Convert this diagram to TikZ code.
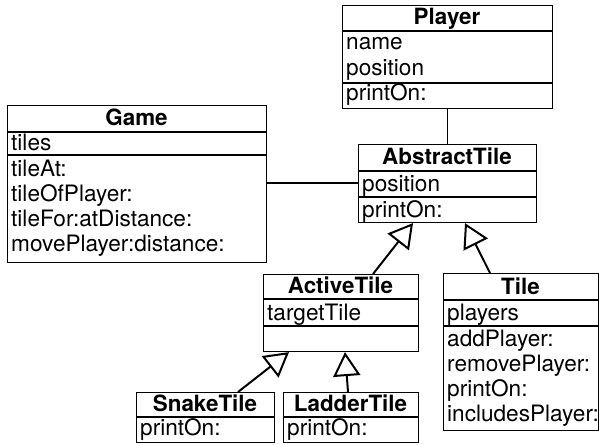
\documentclass[tikz,border=0pt]{standalone}
\usepackage{fontspec}
\setmainfont{TeX Gyre Heros}
\usetikzlibrary{arrows.meta}
\tikzset{
  cls/.style={draw, line width=1.1pt, inner sep=0pt, anchor=north west},
  sep/.style={line width=1.1pt},
  ttl/.style={inner sep=0pt, anchor=base, font=\fontsize{22.4}{25}\selectfont\bfseries},
  txt/.style={inner sep=0pt, anchor=base west, font=\fontsize{22.6}{25}\selectfont},
  assoc/.style={line width=1.1pt},
  inh/.style={line width=2pt, -{Triangle[open, length=24pt, width=27pt, line width=2pt]}},
}
\begin{document}
\begin{tikzpicture}[x=1pt, y=-1pt]
\useasboundingbox (0,0) rectangle (599,444);
% Player
\node[cls, minimum width=210pt, minimum height=103pt] (player) at (342,5) {};
\draw[sep] (342,31) -- (552,31);
\draw[sep] (342,83) -- (552,83);
\node[ttl] (playerT) at (447,25) {Player};
\node[txt] (playerA1) at (346,50) {name};
\node[txt] (playerA2) at (346,75.5) {position};
\node[txt] (playerM1) at (346,100.5) {printOn:};
% Game
\node[cls, minimum width=259pt, minimum height=157pt] (game) at (7,105) {};
\draw[sep] (7,132) -- (266,132);
\draw[sep] (7,155) -- (266,155);
\node[ttl] (gameT) at (136.5,125.5) {Game};
\node[txt] (gameA1) at (11,150.5) {tiles};
\node[txt] (gameM1) at (11,176) {tileAt:};
\node[txt] (gameM2) at (11,201.5) {tileOfPlayer:};
\node[txt] (gameM3) at (11,226.5) {tileFor:atDistance:};
\node[txt] (gameM4) at (11,251.5) {movePlayer:distance:};
% AbstractTile
\node[cls, minimum width=178pt, minimum height=78pt] (abstract) at (358,144) {};
\draw[sep] (358,171) -- (536,171);
\draw[sep] (358,197) -- (536,197);
\node[ttl] (abstractT) at (447,164.5) {AbstractTile};
\node[txt] (abstractA1) at (362,191.5) {position};
\node[txt] (abstractM1) at (362,217) {printOn:};
% ActiveTile
\node[cls, minimum width=155pt, minimum height=77pt] (active) at (263,274) {};
\draw[sep] (263,299) -- (418,299);
\draw[sep] (263,326) -- (418,326);
\node[ttl] (activeT) at (340.5,293) {ActiveTile};
\node[txt] (activeA1) at (267,320) {targetTile};
% Tile
\node[cls, minimum width=155pt, minimum height=157pt] (tile) at (443,273) {};
\draw[sep] (443,300) -- (598,300);
\draw[sep] (443,326) -- (598,326);
\node[ttl] (tileT) at (520.5,294) {Tile};
\node[txt] (tileA1) at (447,320) {players};
\node[txt] (tileM1) at (447,346.5) {addPlayer:};
\node[txt] (tileM2) at (447,371.5) {removePlayer:};
\node[txt] (tileM3) at (447,396.5) {printOn:};
\node[txt] (tileM4) at (447,421.5) {includesPlayer:};
% SnakeTile
\node[cls, minimum width=138pt, minimum height=50pt] (snake) at (136,392) {};
\draw[sep] (136,417) -- (274,417);
\node[ttl] (snakeT) at (205,411.5) {SnakeTile};
\node[txt] (snakeM1) at (140,435.5) {printOn:};
% LadderTile
\node[cls, minimum width=135pt, minimum height=50pt] (ladder) at (283,392) {};
\draw[sep] (283,417) -- (418,417);
\node[ttl] (ladderT) at (350.5,411.5) {LadderTile};
\node[txt] (ladderM1) at (287,435.5) {printOn:};
% connectors
\draw[assoc] (player.south) -- (abstract.north);
\draw[assoc] (game.east |- 0,183) -- (abstract.west |- 0,183);
\draw[inh] ([xshift=110pt]active.north west) -- ([xshift=55pt]abstract.south west);
\draw[inh] ([xshift=47pt]tile.north west) -- ([xshift=107pt]abstract.south west);
\draw[inh] ([xshift=102pt]snake.north west) -- ([xshift=26pt]active.south west);
\draw[inh] ([xshift=65pt]ladder.north west) -- ([xshift=82pt]active.south west);
\end{tikzpicture}
\end{document}
